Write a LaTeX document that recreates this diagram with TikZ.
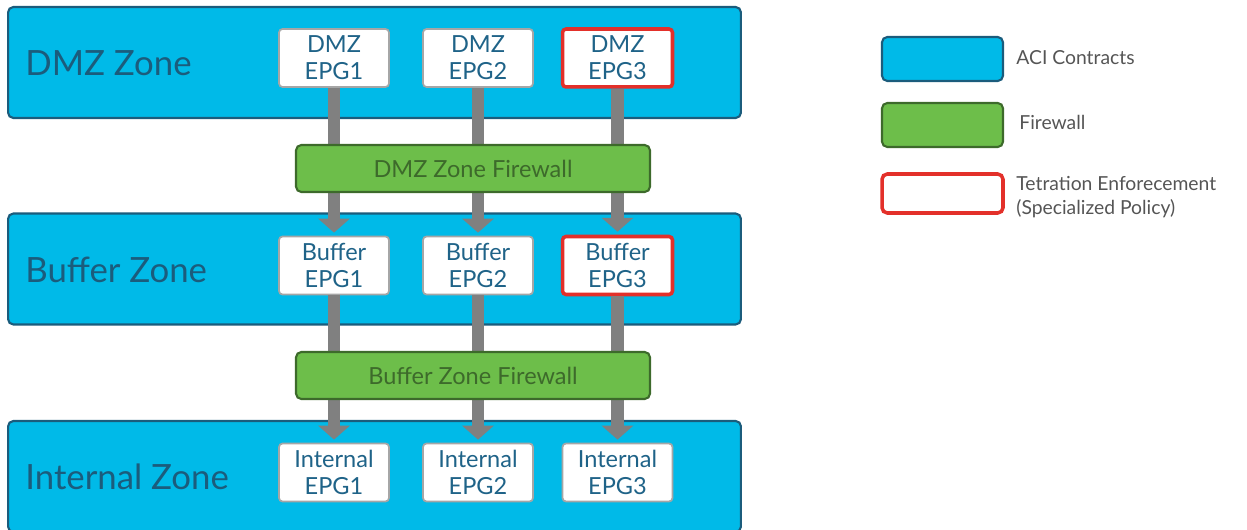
\documentclass[tikz,border=0pt]{standalone}
\usepackage{fontspec}
\setmainfont{Lato}
\usetikzlibrary{arrows.meta}
\usetikzlibrary{positioning}
\definecolor{aciblue}{HTML}{00BAE8}
\definecolor{acidark}{HTML}{1B5C7C}
\definecolor{fwgreen}{HTML}{6DBE4A}
\definecolor{fwdark}{HTML}{3D6A2B}
\definecolor{tetred}{HTML}{E3302A}
\definecolor{epgtext}{HTML}{1F6388}
\definecolor{flowgray}{HTML}{808080}
\definecolor{keytext}{HTML}{555555}
\tikzset {
  % blue zone band
  zone/.style = {
    draw = acidark,
    fill = aciblue,
    line width = 1.2pt,
    rounded corners = 3pt,
    minimum width = 14.66cm,
    minimum height = 2.22cm,
    inner sep = 0
  },
  zone label/.style = {
    anchor = west,
    text = acidark,
    inner sep = 0,
    font = \fontsize{19.8}{24}\selectfont
  },
  % endpoint group box
  epg/.style = {
    draw = gray!70,
    fill = white,
    line width = 1pt,
    rounded corners = 2pt,
    minimum width = 2.2cm,
    minimum height = 1.16cm,
    inner sep = 0,
    align = center,
    text = epgtext,
    font = \fontsize{13.4}{15.3}\selectfont
  },
  % epg with specialized policy
  tet epg/.style = {
    epg,
    draw = tetred,
    line width = 2pt
  },
  firewall/.style = {
    draw = fwdark,
    fill = fwgreen,
    line width = 1.2pt,
    rounded corners = 3pt,
    minimum width = 7.08cm,
    minimum height = 0.94cm,
    inner sep = 0,
    text = fwdark,
    font = \fontsize{13.4}{15.3}\selectfont
  },
  % traffic path between zones
  flow/.style = {
    draw = flowgray,
    line width = 7pt,
    -{Triangle[width=0.62cm,length=0.28cm]},
    shorten > = 0.06cm
  },
  key/.style = {
    rounded corners = 3pt,
    minimum width = 2.42cm,
    minimum height = 0.88cm,
    inner sep = 0
  },
  key text/.style = {
    anchor = west,
    align = left,
    inner sep = 0,
    text = keytext,
    font = \fontsize{11}{14}\selectfont
  }
}
\begin{document}
\begin{tikzpicture}[x=0.02cm, y=-0.02cm]
    \useasboundingbox (0,0) rectangle (1247,530);

    % zones
    \node[zone] (dmz) at (374.5,62.5) {};
    \node[zone] (buffer) at (374.5,269) {};
    \node[zone] (internal) at (374.5,476.5) {};
    \node[zone label] (dmz-label) at (25,63) {DMZ Zone};
    \node[zone label] (buffer-label) at (25,270) {Buffer Zone};
    \node[zone label] (internal-label) at (25,477) {Internal Zone};

    % epgs
    \node[epg] (dmz-epg1) at (334,58) {DMZ\\EPG1};
    \node[epg] (dmz-epg2) at (478,58) {DMZ\\EPG2};
    \node[tet epg] (dmz-epg3) at (617.5,58) {DMZ\\EPG3};
    \node[epg] (buf-epg1) at (334,265.5) {Buffer\\EPG1};
    \node[epg] (buf-epg2) at (478,265.5) {Buffer\\EPG2};
    \node[tet epg] (buf-epg3) at (617.5,265.5) {Buffer\\EPG3};
    \node[epg] (int-epg1) at (334,472.5) {Internal\\EPG1};
    \node[epg] (int-epg2) at (478,472.5) {Internal\\EPG2};
    \node[epg] (int-epg3) at (617.5,472.5) {Internal\\EPG3};

    \draw[flow] (dmz-epg1) -- (buf-epg1);
    \draw[flow] (dmz-epg2) -- (buf-epg2);
    \draw[flow] (dmz-epg3) -- (buf-epg3);
    \draw[flow] (buf-epg1) -- (int-epg1);
    \draw[flow] (buf-epg2) -- (int-epg2);
    \draw[flow] (buf-epg3) -- (int-epg3);

    % firewalls sit on top of the paths
    \node[firewall] (dmz-fw) at (473,168.5) {DMZ Zone Firewall};
    \node[firewall] (buf-fw) at (473,375.5) {Buffer Zone Firewall};

    % legend
    \node[key, draw=acidark, fill=aciblue, line width=1.2pt] (key-aci) at (942.5,59) {};
    \node[key, draw=fwdark, fill=fwgreen, line width=1.2pt] (key-fw) at (942.5,125) {};
    \node[key, draw=tetred, fill=white, line width=2pt, minimum height=0.78cm] (key-tet) at (942.5,193.5) {};
    \node[key text] (aci-text) at (1016,58) {ACI Contracts};
    \node[key text] (fw-text) at (1019,122) {Firewall};
    \node[key text] (tet-text) at (1016,197) {Tetration Enforecement\\(Specialized Policy)};
  \end{tikzpicture}
\end{document}
